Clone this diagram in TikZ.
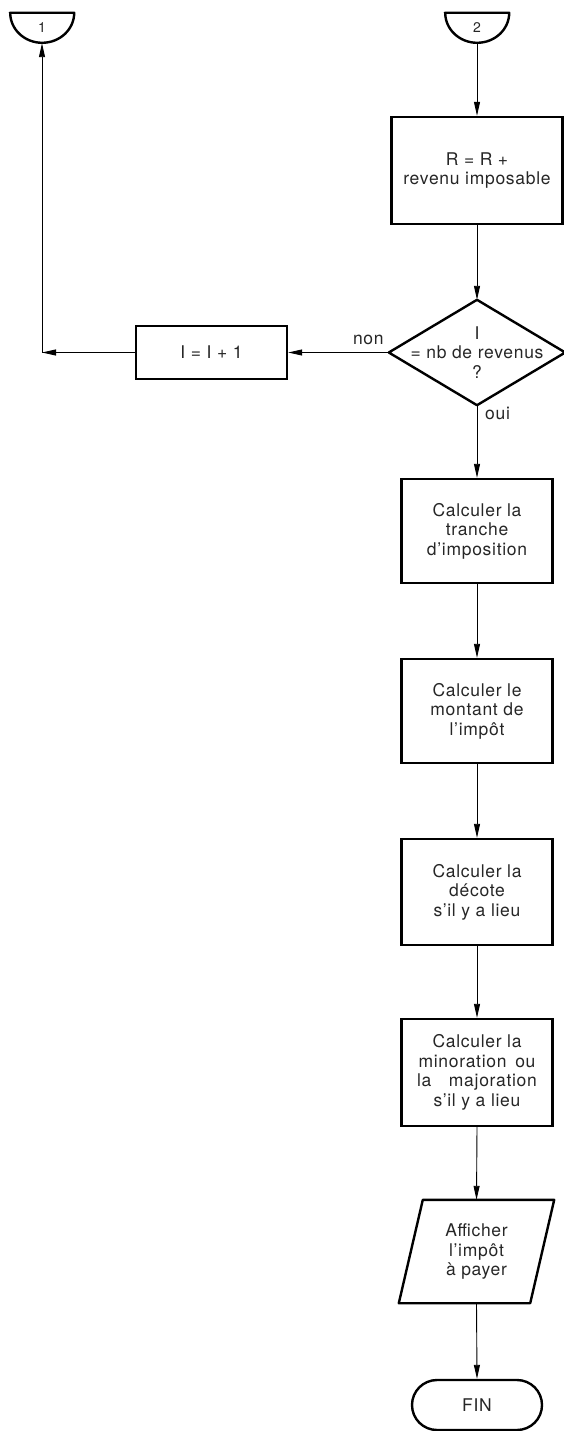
\documentclass[tikz,border=0pt]{standalone}
\usepackage{fontspec}
\setmainfont{TeX Gyre Heros}[LetterSpace=4]
\usetikzlibrary{arrows.meta,calc}
\begin{document}
\begin{tikzpicture}[x=1pt,y=1pt,
  txt/.style={font=\fontsize{17.5}{19.5}\selectfont, text=black!85, align=center, inner sep=0pt},
  box/.style={txt, draw, line width=2.4pt, minimum width=151pt, minimum height=105pt},
  conn/.style={font=\fontsize{14}{16}\selectfont, text=black!85, inner sep=0pt, minimum width=64pt, minimum height=30pt},
  shapeline/.style={line width=2.4pt, line join=round},
  arr/.style={-{Triangle[length=14pt,width=6pt]}, line width=0.9pt},
  lbl/.style={font=\fontsize{17.5}{19.5}\selectfont, text=black!85, inner sep=0pt},
]
\useasboundingbox (0,0) rectangle (564,-1431);

% connectors
\node[conn] (c1) at (42,-28) {1};
\draw[shapeline] (c1.north west) -- (c1.north east) arc[start angle=0, end angle=-180, x radius=32pt, y radius=30pt] -- cycle;
\node[conn] (c2) at (477,-28) {2};
\draw[shapeline] (c2.north west) -- (c2.north east) arc[start angle=0, end angle=-180, x radius=32pt, y radius=30pt] -- cycle;

% process boxes
\node[box, minimum width=171pt, minimum height=107pt] (r) at (477,-170.5) {R = R +\\revenu imposable};

\node[txt, minimum width=176pt, minimum height=105pt] (d) at (477,-352.5) {I\\= nb de revenus\\?};
\draw[shapeline] (d.north) -- (d.east) -- (d.south) -- (d.west) -- cycle;

\node[box, minimum height=53pt] (i) at (211.5,-352.5) {I = I + 1};
\coordinate (k) at (42,-352.5);

\node[box, minimum height=104pt] (t) at (477,-531) {Calculer la\\tranche\\d’imposition};
\node[box, minimum height=104pt] (m) at (477,-711) {Calculer le\\montant de\\l’impôt};
\node[box, minimum height=106pt] (dc) at (477,-892) {Calculer la\\décote\\s’il y a lieu};
\node[box, minimum height=107pt] (mn) at (477,-1072.5) {Calculer la\\minoration\enspace ou\\la\quad majoration\\s’il y a lieu};

\node[txt, minimum width=131pt, minimum height=103pt] (p) at (476.5,-1251.5) {Afficher\\l’impôt\\à payer};
\draw[shapeline] ([xshift=12pt]p.north west) -- ([xshift=12pt]p.north east) -- ([xshift=-12pt]p.south east) -- ([xshift=-12pt]p.south west) -- cycle;

\node[txt, draw, line width=2.4pt, rounded corners=25pt, minimum width=130pt, minimum height=50pt] (fin) at (477,-1405) {FIN};

% connections
\draw[arr] (c2.south) -- (r.north);
\draw[arr] (r.south) -- (d.north);
\draw[arr] (d.west) -- (i.east);
\node[lbl, anchor=south east] at ([xshift=-5pt,yshift=8pt]d.west) {non};
\draw[arr] (i.west) -- (k);
\draw[arr] (k) -- (c1.south);
\draw[arr] (d.south) -- (t.north);
\node[lbl, anchor=north west] at ([xshift=8pt,yshift=-2pt]d.south) {oui};
\draw[arr] (t.south) -- (m.north);
\draw[arr] (m.south) -- (dc.north);
\draw[arr] (dc.south) -- (mn.north);
\draw[arr] (mn.south) -- (p.north);
\draw[arr] (p.south) -- (fin.north);
\end{tikzpicture}
\end{document}
